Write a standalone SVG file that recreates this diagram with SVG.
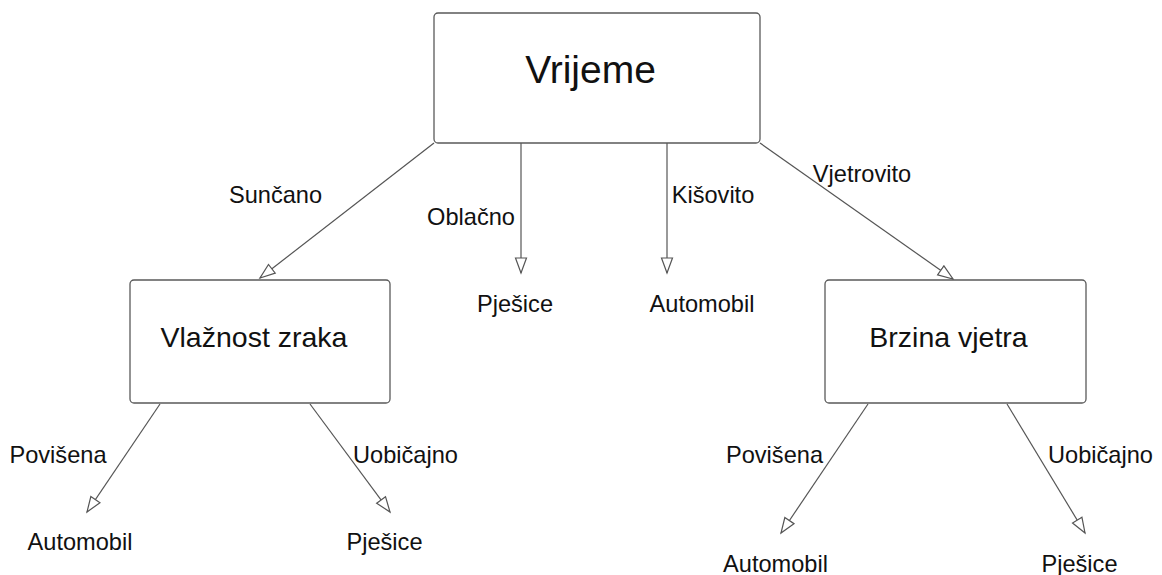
<svg xmlns="http://www.w3.org/2000/svg" width="1162" height="575" viewBox="0 0 1162 575">
<style>
.box{fill:#fff;stroke:#5a5a5a;stroke-width:1.3}
.t{font-family:"Liberation Sans",Arial,sans-serif;fill:#111;text-anchor:middle}
.title{font-size:39px}
.bt{font-size:28.5px}
.lb{font-size:23.6px}
.c{fill:none;stroke:#555;stroke-width:1.2;marker-end:url(#ah)}
</style>
<defs>
<marker id="ah" markerUnits="userSpaceOnUse" markerWidth="18" markerHeight="14" refX="16" refY="6" orient="auto" viewBox="0 0 18 12">
<path d="M1,0.5 L16,6 L1,11.5 Z" fill="#fff" stroke="#555" stroke-width="1.2"/>
</marker>
</defs>
<rect width="1162" height="575" fill="#fff"/>
<g id="connectors">
<path class="c" d="M434,143 L260,278"/>
<path class="c" d="M521,143 L521,273"/>
<path class="c" d="M667,143 L667,273"/>
<path class="c" d="M760,143 L953,279"/>
<path class="c" d="M160,404 L87,512"/>
<path class="c" d="M310,404 L390,512"/>
<path class="c" d="M868,404 L781,533"/>
<path class="c" d="M1007,404 L1085,533"/>
</g>
<g id="labels">
<text class="t lb" x="275.5" y="203">Sunčano</text>
<text class="t lb" x="471" y="225">Oblačno</text>
<text class="t lb" x="713" y="203">Kišovito</text>
<text class="t lb" x="862" y="182">Vjetrovito</text>
<text class="t lb" x="58" y="463">Povišena</text>
<text class="t lb" x="405.5" y="463">Uobičajno</text>
<text class="t lb" x="774.5" y="463">Povišena</text>
<text class="t lb" x="1100.5" y="463">Uobičajno</text>
</g>
<g id="n-vrijeme">
<rect class="box" x="434" y="13" width="326" height="130" rx="4"/>
<text class="t title" x="590.5" y="83">Vrijeme</text>
</g>
<g id="n-vlaznost">
<rect class="box" x="130" y="280" width="260" height="123" rx="4"/>
<text class="t bt" x="254" y="347">Vlažnost zraka</text>
</g>
<g id="n-brzina">
<rect class="box" x="825" y="280" width="261" height="123" rx="4"/>
<text class="t bt" x="948.5" y="347">Brzina vjetra</text>
</g>
<g id="n-pjesice1"><text class="t lb" x="515" y="312">Pješice</text></g>
<g id="n-automobil1"><text class="t lb" x="702" y="312">Automobil</text></g>
<g id="n-automobil2"><text class="t lb" x="80" y="550">Automobil</text></g>
<g id="n-pjesice2"><text class="t lb" x="384.5" y="550">Pješice</text></g>
<g id="n-automobil3"><text class="t lb" x="775.5" y="572">Automobil</text></g>
<g id="n-pjesice3"><text class="t lb" x="1079.5" y="572">Pješice</text></g>
</svg>
